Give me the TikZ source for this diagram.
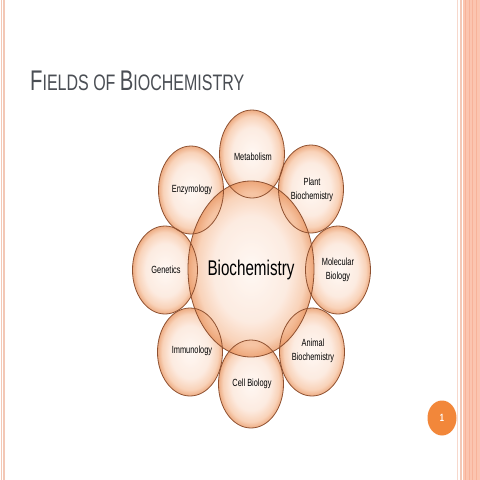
\documentclass[tikz,border=0pt]{standalone}
\usepackage{fontspec}
\setmainfont{Liberation Sans}
\definecolor{bubin}{HTML}{FFF6F0}
\definecolor{bubmid}{HTML}{FCE5D7}
\definecolor{bubrim}{HTML}{F7C4A2}
\definecolor{bubout}{HTML}{E8915A}
\definecolor{bubline}{HTML}{8E5030}
\definecolor{titlegray}{HTML}{4A4E54}
\definecolor{pagenum}{HTML}{F2873A}
\definecolor{edgepink}{HTML}{F3C8B6}
\definecolor{edgesalmon}{HTML}{FBC5B0}
\definecolor{edgestripe}{HTML}{F7B39A}
\pgfdeclareradialshading{bubble}{\pgfpointorigin}{color(0bp)=(bubin); color(15bp)=(bubmid); color(21.5bp)=(bubrim); color(25bp)=(bubout); color(50bp)=(bubout)}
\newcommand{\tallt}[1]{\scalebox{1}[1.4]{#1}}
\tikzset{
  bubblefill/.style={shading=bubble, fill opacity=0.75},
  bubbleline/.style={draw=bubline, line width=0.8pt},
  lbl/.style={font=\fontsize{7.4}{9.6}\selectfont, text=black, align=center, inner sep=0pt},
}
\begin{document}
\begin{tikzpicture}[x=1pt,y=-1pt]
\useasboundingbox (0,0) rectangle (480,480);
\fill[white] (0,0) rectangle (480,480);
% left edge lines
\fill[edgepink] (1,0) rectangle (2.2,480);
\fill[edgepink] (3.2,0) rectangle (4.6,480);
% right edge band
\fill[edgepink!70] (456.5,0) rectangle (458,480);
\fill[edgepink] (460,0) rectangle (461.6,480);
\fill[edgesalmon] (462.5,0) rectangle (480,480);
\foreach \xx in {465,468.5,472,476} {\fill[edgestripe] (\xx,0) rectangle (\xx+1,480);}
% title
\node[anchor=base west, inner sep=0pt, text=titlegray] (title) at (30,90)
  {\tallt{\fontsize{20.3}{21}\selectfont F\fontsize{16}{17}\selectfont IELDS OF \fontsize{20.3}{21}\selectfont B\fontsize{16}{17}\selectfont IOCHEMISTRY}};
% bubbles: centre and satellites
\coordinate (c) at (251,269);
\foreach \nm/\xx/\yy in {met/252/154, pla/311/189, mol/338/270, ani/312/352, cel/251/384, imm/190/352, gen/165/270, enz/191/190} {
  \coordinate (\nm) at (\xx,\yy);
}
\foreach \nm in {met,pla,mol,ani,cel,imm,gen,enz} {
  \shade[bubblefill] (\nm) ellipse [x radius=32.5, y radius=44];
}
\shade[bubblefill] (c) ellipse [x radius=63, y radius=88];
\foreach \nm in {met,pla,mol,ani,cel,imm,gen,enz} {
  \draw[bubbleline] (\nm) ellipse [x radius=32.5, y radius=44];
}
\draw[bubbleline] (c) ellipse [x radius=63, y radius=88];
% labels
\node[lbl] (tmet) at (253,157) {\tallt{Metabolism}};
\node[lbl] (tpla) at (312,190) {\tallt{\begin{tabular}{@{}c@{}}Plant\\Biochemistry\end{tabular}}};
\node[lbl] (tmol) at (338,270) {\tallt{\begin{tabular}{@{}c@{}}Molecular\\Biology\end{tabular}}};
\node[lbl] (tani) at (313,351) {\tallt{\begin{tabular}{@{}c@{}}Animal\\Biochemistry\end{tabular}}};
\node[lbl] (tcel) at (252,384) {\tallt{Cell Biology}};
\node[lbl] (timm) at (192,351) {\tallt{Immunology}};
\node[lbl] (tgen) at (166,270) {\tallt{Genetics}};
\node[lbl] (tenz) at (192,190) {\tallt{Enzymology}};
\node[inner sep=0pt, text=black, font=\fontsize{15.2}{16}\selectfont] (tbio) at (251,270) {\tallt{Biochemistry}};
% page number
\fill[pagenum] (442,418) ellipse [x radius=14.5, y radius=17.5];
\node[inner sep=0pt, text=white, font=\bfseries\fontsize{7.5}{8}\selectfont] (pnum) at (442,418) {\tallt{1}};
\end{tikzpicture}
\end{document}
